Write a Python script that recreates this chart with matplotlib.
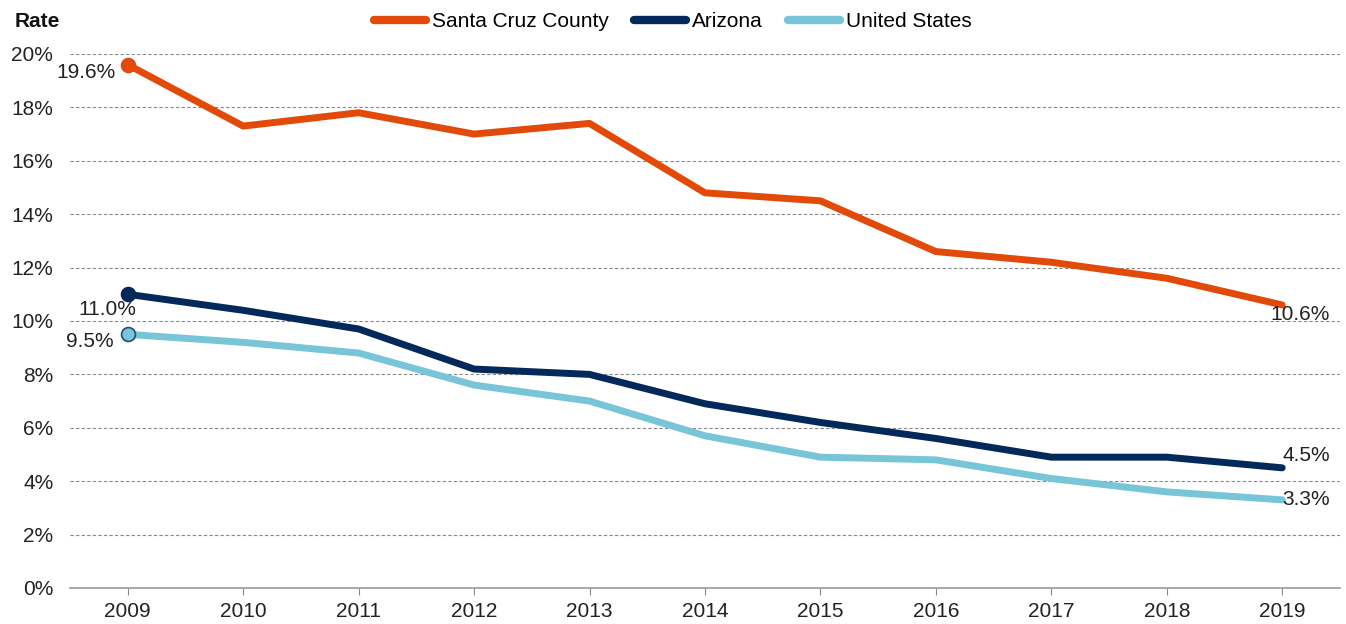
import matplotlib.pyplot as plt
from matplotlib.lines import Line2D
from matplotlib.ticker import PercentFormatter

plt.rcParams['font.family'] = ['Liberation Sans', 'DejaVu Sans']

years = [2009, 2010, 2011, 2012, 2013, 2014, 2015, 2016, 2017, 2018, 2019]
santa_cruz = [19.6, 17.3, 17.8, 17.0, 17.4, 14.8, 14.5, 12.6, 12.2, 11.6, 10.6]
arizona = [11.0, 10.4, 9.7, 8.2, 8.0, 6.9, 6.2, 5.6, 4.9, 4.9, 4.5]
united_states = [9.5, 9.2, 8.8, 7.6, 7.0, 5.7, 4.9, 4.8, 4.1, 3.6, 3.3]

series = [
    ("Santa Cruz County", santa_cruz, "#E24A0A", "#E24A0A"),
    ("Arizona", arizona, "#02295A", "#02295A"),
    ("United States", united_states, "#78C5D8", "#1F4E79"),
]

FS = 15

fig = plt.figure(figsize=(13.46, 6.24), dpi=100)
ax = fig.add_axes([0.052, 0.0577, 0.9435, 0.8558])

x = list(range(len(years)))
for name, vals, col, edge in series:
    ax.plot(x, vals, color=col, lw=5, solid_capstyle='round', solid_joinstyle='round', zorder=3)
    ax.plot(x[0], vals[0], 'o', ms=10, color=col, mec=edge, mew=1.2, zorder=4)

txt = dict(fontsize=FS, color='#222222')
# start / end labels
ax.annotate("19.6%", (0, santa_cruz[0]), xytext=(-30, -6), textcoords='offset points', ha='center', va='center', **txt)
ax.annotate("11.0%", (0, arizona[0]), xytext=(-15, -11), textcoords='offset points', ha='center', va='center', **txt)
ax.annotate("9.5%", (0, united_states[0]), xytext=(-27, -5), textcoords='offset points', ha='center', va='center', **txt)
ax.annotate("10.6%", (10, santa_cruz[-1]), xytext=(13, -7), textcoords='offset points', ha='center', va='center', **txt)
ax.annotate("4.5%", (10, arizona[-1]), xytext=(17, 9), textcoords='offset points', ha='center', va='center', **txt)
ax.annotate("3.3%", (10, united_states[-1]), xytext=(17, 0), textcoords='offset points', ha='center', va='center', **txt)

ax.set_xlim(-0.5, 10.5)
ax.set_ylim(0, 20)
ax.set_xticks(x)
ax.set_xticklabels([str(y) for y in years])
ax.set_yticks(range(0, 21, 2))
ax.yaxis.set_major_formatter(PercentFormatter(decimals=0))
ax.tick_params(axis='y', length=0, labelsize=FS, pad=12, labelcolor='#222222')
ax.tick_params(axis='x', length=5, color='#888888', labelsize=FS, pad=5, labelcolor='#222222')
for y in range(2, 21, 2):
    ax.axhline(y, color='#888888', lw=0.8, ls=(0, (3, 2)), zorder=1)
for s in ['top', 'right', 'left']:
    ax.spines[s].set_visible(False)
ax.spines['bottom'].set_color('#999999')
ax.spines['bottom'].set_linewidth(1.2)

fig.text(0.011, 0.966, "Rate", fontsize=FS, fontweight='bold', ha='left', va='center', color='#111111')

handles = [Line2D([0], [0], color=c, lw=6, solid_capstyle='round') for _, _, c, _ in series]
fig.legend(handles, [n for n, _, _, _ in series], loc='center', bbox_to_anchor=(0.5, 0.965),
           ncol=3, frameon=False, fontsize=FS, handlelength=2.5, handletextpad=0.3, columnspacing=1.2)

fig.savefig("out.png", dpi=100)
